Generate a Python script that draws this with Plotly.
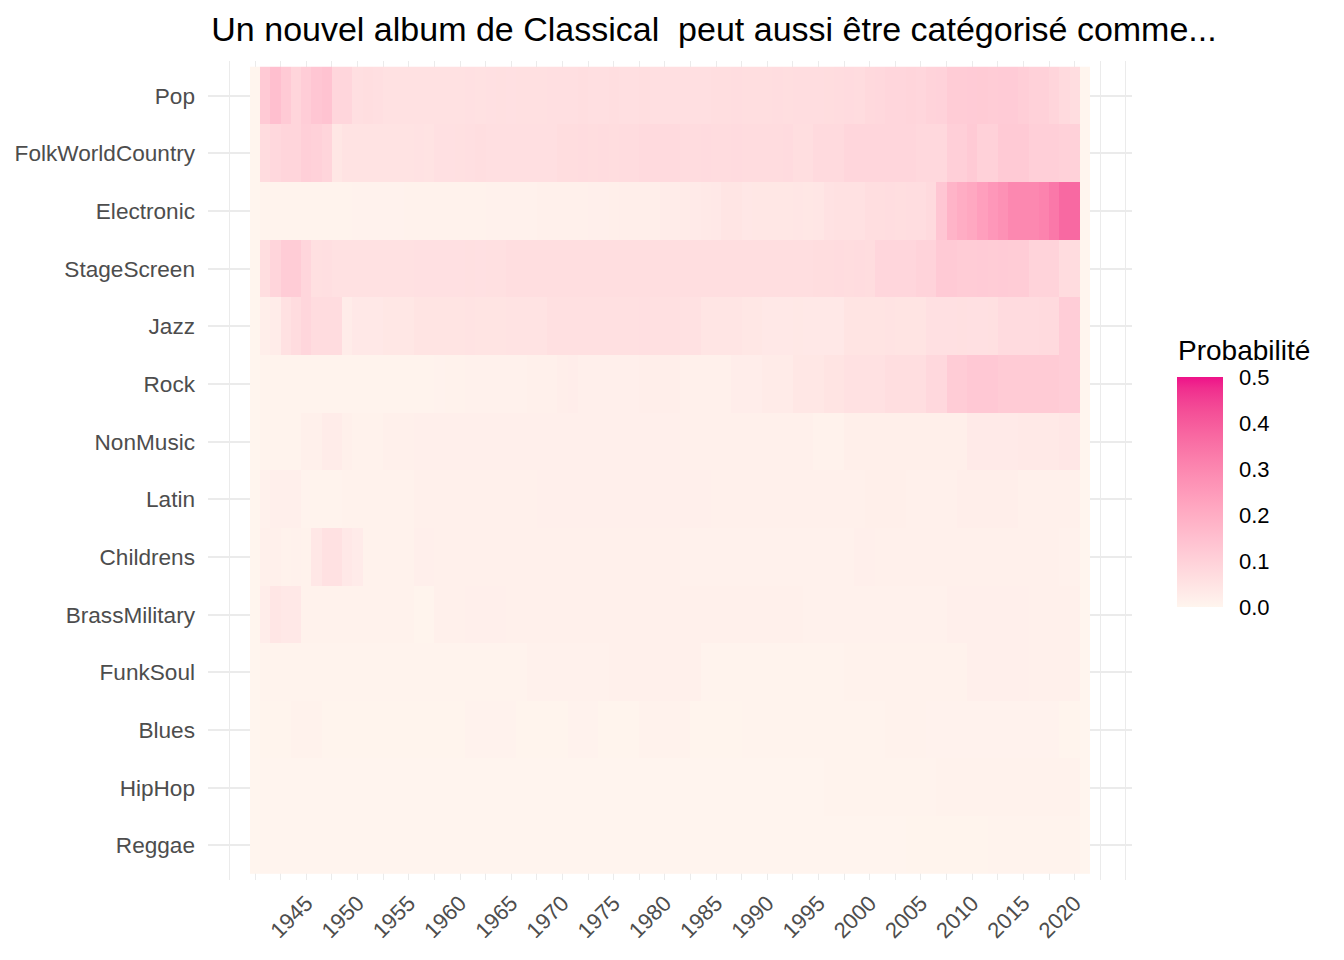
import plotly.graph_objects as go

years = list(range(1940, 2022))
genres = ["Pop", "FolkWorldCountry", "Electronic", "StageScreen", "Jazz", "Rock",
          "NonMusic", "Latin", "Childrens", "BrassMilitary", "FunkSoul", "Blues",
          "HipHop", "Reggae"]
tick_years = [1945, 1950, 1955, 1960, 1965, 1970, 1975, 1980, 1985, 1990, 1995,
              2000, 2005, 2010, 2015, 2020]

pop = [0, .12, .15, .12, .09, .11, .13, .14, .085, .085,
       .06, .065, .06, .055, .055, .055, .056, .055, .056, .055,
       .056, .057, .056, .057, .058, .057, .058, .058, .059, .062,
       .062, .062, .063, .062, .062, .063, .062, .062, .063, .062,
       .062, .062, .06, .06, .06, .065, .065, .066, .065, .065,
       .065, .066, .065, .066, .067, .066, .068, .07, .072, .07,
       .078, .08, .085, .086, .088, .087, .095, .097, .113, .115,
       .117, .118, .115, .117, .116, .108, .1, .1, .09, .075,
       .066, 0]
folk = [0, .07, .08, .09, .09, .105, .1, .09, .04, .05,
        .05, .05, .05, .05, .05, .05, .052, .05, .057, .057,
        .058, .06, .065, .062, .06, .06, .061, .06, .062, .061,
        .068, .068, .069, .068, .07, .068, .069, .07, .075, .075,
        .076, .075, .07, .07, .071, .07, .07, .072, .07, .07,
        .07, .07, .071, .065, .065, .075, .075, .075, .085, .085,
        .085, .086, .085, .085, .085, .08, .08, .08, .105, .105,
        .12, .1, .1, .12, .12, .12, .105, .105, .105, .1,
        .1, 0]
electronic = [0, .006, .006, .006, .006, .006, .006, .006, .006, .006,
              .007, .007, .007, .007, .007, .008, .008, .008, .008, .008,
              .009, .009, .009, .01, .01, .011, .012, .012, .013, .013,
              .014, .015, .015, .016, .017, .018, .019, .019, .02, .02,
              .024, .025, .028, .03, .034, .035, .045, .045, .038, .04,
              .04, .04, .04, .041, .04, .042, .052, .055, .055, .056,
              .064, .065, .066, .065, .066, .067, .075, .13, .18, .2,
              .215, .237, .257, .275, .298, .298, .298, .31, .337, .37,
              .37, 0]
stagescreen = [0, .065, .09, .115, .115, .085, .058, .06, .055, .055,
               .055, .055, .055, .055, .056, .055, .057, .057, .057, .057,
               .057, .058, .057, .058, .058, .063, .063, .063, .064, .063,
               .063, .063, .064, .063, .063, .064, .063, .063, .064, .063,
               .063, .064, .063, .063, .063, .064, .063, .064, .063, .064,
               .064, .063, .064, .064, .064, .068, .068, .069, .068, .07,
               .068, .085, .085, .087, .085, .095, .095, .12, .12, .115,
               .115, .117, .115, .116, .115, .114, .095, .095, .095, .07,
               .07, 0]
jazz = [0, .02, .025, .055, .07, .085, .07, .07, .07, .025,
        .035, .035, .035, .04, .04, .04, .048, .048, .048, .048,
        .048, .049, .048, .048, .048, .05, .049, .05, .05, .058,
        .058, .058, .059, .058, .058, .059, .058, .058, .06, .058,
        .058, .058, .056, .055, .045, .045, .045, .045, .04, .04,
        .035, .035, .035, .036, .035, .035, .035, .035, .048, .048,
        .048, .048, .049, .048, .048, .048, .057, .057, .057, .058,
        .057, .057, .058, .072, .072, .072, .072, .075, .075, .11,
        .11, 0]
rock = [0, .005, .005, .005, .005, .005, .005, .005, .005, .005,
        .005, .005, .005, .005, .005, .006, .006, .006, .007, .008,
        .009, .01, .01, .01, .01, .01, .01, .015, .015, .015,
        .02, .022, .017, .017, .017, .017, .017, .017, .02, .02,
        .02, .02, .015, .015, .015, .015, .015, .022, .022, .022,
        .028, .028, .028, .04, .04, .04, .048, .048, .055, .055,
        .055, .055, .065, .065, .065, .065, .08, .08, .115, .115,
        .125, .125, .125, .118, .118, .118, .118, .118, .118, .11,
        .11, 0]
nonmusic = [0, .005, .005, .005, .005, .013, .013, .025, .025, .013,
            .008, .008, .008, .013, .013, .013, .017, .017, .017, .017,
            .017, .017, .017, .017, .017, .017, .017, .017, .017, .017,
            .017, .017, .017, .017, .017, .017, .017, .017, .017, .017,
            .017, .017, .014, .014, .014, .014, .014, .014, .014, .014,
            .014, .014, .014, .014, .014, .008, .008, .008, .018, .018,
            .018, .018, .018, .018, .018, .018, .018, .018, .018, .018,
            .03, .03, .03, .03, .03, .033, .033, .033, .033, .038,
            .038, 0]
latin = [0, .01, .017, .017, .017, .005, .005, .005, .005, .008,
         .008, .008, .008, .008, .008, .008, .013, .013, .013, .013,
         .013, .013, .013, .013, .013, .013, .013, .013, .016, .016,
         .016, .016, .016, .016, .016, .016, .016, .016, .016, .016,
         .016, .016, .016, .016, .016, .014, .014, .014, .014, .014,
         .014, .014, .014, .014, .014, .014, .014, .014, .014, .014,
         .018, .018, .018, .018, .014, .014, .014, .014, .014, .02,
         .02, .02, .02, .02, .02, .015, .015, .015, .015, .015,
         .015, 0]
childrens = [0, .013, .013, .008, .01, .008, .038, .055, .055, .035,
             .027, .008, .008, .008, .008, .008, .016, .016, .013, .013,
             .013, .013, .013, .013, .013, .013, .013, .013, .013, .013,
             .013, .013, .013, .013, .013, .013, .013, .013, .013, .013,
             .013, .013, .012, .012, .011, .011, .011, .011, .011, .011,
             .011, .011, .011, .011, .011, .011, .011, .011, .011, .017,
             .017, .013, .013, .013, .013, .013, .013, .013, .013, .013,
             .013, .013, .013, .013, .013, .013, .013, .013, .013, .012,
             .012, 0]
brass = [0, .022, .042, .035, .035, .008, .008, .008, .008, .008,
         .008, .008, .008, .008, .008, .008, .003, .003, .013, .013,
         .013, .016, .016, .016, .016, .013, .013, .013, .013, .013,
         .013, .013, .013, .013, .013, .013, .013, .013, .013, .013,
         .013, .013, .013, .015, .013, .013, .013, .013, .013, .013,
         .013, .013, .013, .013, .012, .012, .012, .012, .012, .012,
         .012, .012, .012, .012, .012, .012, .012, .012, .016, .016,
         .016, .016, .016, .016, .016, .016, .013, .013, .013, .013,
         .013, 0]
funksoul = [0, .006, .006, .006, .006, .006, .006, .006, .006, .006,
            .006, .006, .006, .006, .006, .006, .006, .006, .006, .006,
            .006, .006, .006, .006, .006, .006, .006, .01, .01, .01,
            .01, .01, .01, .01, .01, .013, .013, .013, .013, .013,
            .013, .013, .013, .013, .006, .006, .006, .006, .006, .006,
            .006, .006, .006, .006, .006, .006, .006, .006, .009, .009,
            .009, .009, .009, .009, .009, .009, .009, .009, .009, .009,
            .016, .016, .016, .016, .016, .016, .015, .015, .015, .015,
            .015, 0]
blues = [0, .004, .004, .004, .008, .008, .008, .004, .004, .004,
         .004, .004, .004, .004, .004, .004, .004, .004, .004, .004,
         .004, .007, .007, .007, .007, .007, .004, .004, .004, .004,
         .004, .007, .007, .007, .004, .004, .004, .004, .008, .008,
         .008, .008, .008, .004, .004, .004, .004, .004, .005, .005,
         .005, .005, .005, .005, .005, .005, .005, .005, .005, .005,
         .005, .005, .009, .009, .009, .009, .007, .007, .007, .007,
         .007, .007, .007, .007, .007, .007, .007, .007, .007, .004,
         .004, 0]
hiphop = [0, .002, .002, .002, .002, .002, .002, .002, .002, .002,
          .002, .002, .002, .002, .002, .002, .002, .002, .002, .002,
          .002, .002, .002, .002, .002, .002, .002, .002, .002, .002,
          .002, .002, .002, .002, .002, .002, .002, .002, .002, .002,
          .002, .002, .002, .002, .002, .002, .002, .002, .002, .002,
          .002, .002, .002, .002, .002, .002, .005, .005, .005, .005,
          .005, .005, .005, .005, .005, .005, .005, .009, .009, .009,
          .009, .009, .009, .009, .009, .009, .009, .009, .009, .009,
          .009, 0]
reggae = [0, .002, .002, .002, .002, .002, .002, .002, .002, .002,
          .002, .002, .002, .002, .002, .002, .002, .002, .002, .002,
          .002, .002, .002, .002, .002, .002, .002, .002, .002, .002,
          .002, .002, .002, .002, .002, .002, .002, .002, .002, .002,
          .002, .002, .002, .002, .002, .002, .002, .002, .002, .002,
          .002, .002, .002, .002, .002, .002, .002, .002, .002, .002,
          .002, .002, .002, .002, .004, .004, .004, .004, .004, .004,
          .004, .004, .005, .005, .005, .005, .005, .005, .005, .005,
          .005, 0]

z = [pop, folk, electronic, stagescreen, jazz, rock, nonmusic, latin,
     childrens, brass, funksoul, blues, hiphop, reggae]


# ---- colour scale: Lab interpolation between seashell and deeppink2 (ggplot-like)
def srgb_to_lin(c):
    c = c / 255.0
    return c / 12.92 if c <= 0.04045 else ((c + 0.055) / 1.055) ** 2.4


def lin_to_srgb(c):
    c = max(0.0, min(1.0, c))
    v = 12.92 * c if c <= 0.0031308 else 1.055 * c ** (1 / 2.4) - 0.055
    return int(round(v * 255))


WX, WY, WZ = 0.95047, 1.0, 1.08883


def f_lab(t):
    return t ** (1 / 3) if t > 216 / 24389 else (24389 / 27 * t + 16) / 116


def finv(t):
    return t ** 3 if t ** 3 > 216 / 24389 else (116 * t - 16) / (24389 / 27)


def hex_to_lab(h):
    r, g, b = (srgb_to_lin(int(h[i:i + 2], 16)) for i in (1, 3, 5))
    X = 0.4124 * r + 0.3576 * g + 0.1805 * b
    Y = 0.2126 * r + 0.7152 * g + 0.0722 * b
    Z = 0.0193 * r + 0.1192 * g + 0.9505 * b
    fx, fy, fz = f_lab(X / WX), f_lab(Y / WY), f_lab(Z / WZ)
    return (116 * fy - 16, 500 * (fx - fy), 200 * (fy - fz))


def lab_to_rgb(L, a, b):
    fy = (L + 16) / 116
    fx = fy + a / 500
    fz = fy - b / 200
    X, Y, Z = finv(fx) * WX, finv(fy) * WY, finv(fz) * WZ
    r = 3.2406 * X - 1.5372 * Y - 0.4986 * Z
    g = -0.9689 * X + 1.8758 * Y + 0.0415 * Z
    bb = 0.0557 * X - 0.2040 * Y + 1.0570 * Z
    return "rgb(%d,%d,%d)" % (lin_to_srgb(r), lin_to_srgb(g), lin_to_srgb(bb))


low, high = hex_to_lab("#FFF5EE"), hex_to_lab("#EE1289")
colorscale = []
for k in range(21):
    t = k / 20
    colorscale.append([t, lab_to_rgb(*[low[i] + (high[i] - low[i]) * t for i in range(3)])])

FONT = "Liberation Sans, Arial, sans-serif"

fig = go.Figure(go.Heatmap(
    x=years, y=genres, z=z, zmin=0, zmax=0.5,
    colorscale=colorscale,
    colorbar=dict(
        thickness=46, len=230, lenmode="pixels",
        x=(1177 - 208) / 924, xanchor="left", xpad=0,
        y=(880 - 607) / 819, yanchor="bottom", ypad=0,
        outlinewidth=0,
        tickvals=[0, 0.1, 0.2, 0.3, 0.4, 0.5],
        ticktext=["0.0", "0.1", "0.2", "0.3", "0.4", "0.5"],
        ticks="outside", ticklen=12, tickcolor="rgba(0,0,0,0)", tickwidth=1,
        tickfont=dict(size=22, color="black", family=FONT),
    ),
    hovertemplate="%{x} %{y}: %{z}<extra></extra>",
))

fig.update_layout(
    width=1344, height=960,
    margin=dict(l=208, r=212, t=61, b=80),
    paper_bgcolor="white", plot_bgcolor="white",
    font=dict(family=FONT),
    title=dict(text="Un nouvel album de Classical  peut aussi être catégorisé comme...",
               x=714 / 1344, xanchor="center", xref="container",
               y=1 - 29 / 960, yanchor="middle", yref="container",
               font=dict(size=34, color="black", family=FONT)),
    annotations=[dict(text="Probabilité", xref="paper", yref="paper",
                      x=(1176 - 208) / 924, y=(880 - 350) / 819,
                      xanchor="left", yanchor="middle", showarrow=False,
                      font=dict(size=28, color="black", family=FONT))],
)
fig.update_xaxes(
    range=[1935.4, 2025.6],
    tickvals=tick_years, ticktext=[str(v) for v in tick_years],
    tickangle=-45, tickfont=dict(size=22, color="#4D4D4D", family=FONT),
    ticklabelstandoff=5,
    showgrid=True, gridcolor="#EBEBEB", gridwidth=1.2,
    minor=dict(tick0=1940, dtick=2.5, showgrid=True, gridcolor="#EBEBEB", gridwidth=0.8),
    zeroline=False, showline=False, ticks="",
)
fig.update_yaxes(
    range=[13.6, -0.6], categoryorder="array", categoryarray=genres,
    tickfont=dict(size=22.6, color="#4D4D4D", family=FONT),
    showgrid=True, gridcolor="#EBEBEB", gridwidth=1.6,
    zeroline=False, showline=False, ticks="", ticklabelstandoff=12,
)

fig.write_html("out.html")
